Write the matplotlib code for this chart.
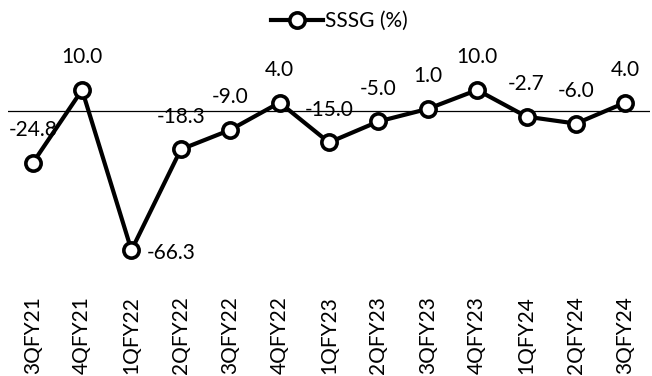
import matplotlib.pyplot as plt

quarters = ["3QFY21", "4QFY21", "1QFY22", "2QFY22", "3QFY22", "4QFY22", "1QFY23",
            "2QFY23", "3QFY23", "4QFY23", "1QFY24", "2QFY24", "3QFY24"]
sssg = [-24.8, 10.0, -66.3, -18.3, -9.0, 4.0, -15.0, -5.0, 1.0, 10.0, -2.7, -6.0, 4.0]

plt.rcParams["font.family"] = ["Lato", "DejaVu Sans"]
fs = 15

fig = plt.figure(figsize=(6.52, 3.76), dpi=100)
ax = fig.add_axes([8 / 652, 1 - 292 / 376, 642 / 652, 252 / 376])

x = list(range(len(quarters)))
ax.plot(x, sssg, color="black", lw=3, marker="o", ms=11, mfc="white",
        mec="black", mew=2.6, label="SSSG (%)", zorder=3)
ax.axhline(0, color="black", lw=0.9, zorder=1)

for i, v in enumerate(sssg):
    if v < -50:
        ax.annotate("%.1f" % v, (i, v), xytext=(11, -2), textcoords="offset points",
                    ha="left", va="center", fontsize=fs)
    else:
        ax.annotate("%.1f" % v, (i, v), xytext=(0, 23.5), textcoords="offset points",
                    ha="center", va="center", fontsize=fs)

ax.set_xlim(-0.5, len(quarters) - 0.5)
ax.set_ylim(-86.2, 33.8)
ax.set_xticks(x)
ax.set_xticklabels(quarters, rotation=90, fontsize=fs)
ax.tick_params(axis="x", length=0, pad=3)
ax.set_yticks([])
for s in ax.spines.values():
    s.set_visible(False)

fig.legend(loc="upper center", bbox_to_anchor=(0.52, 1.02), frameon=False,
           fontsize=fs, handlelength=2.5, handletextpad=0.1)

fig.savefig("out.png", dpi=100)
